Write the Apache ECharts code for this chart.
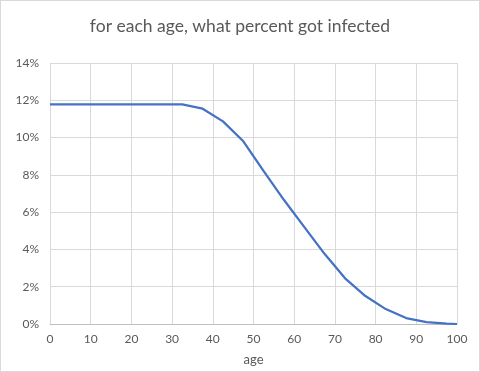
<!DOCTYPE html>
<html>
<head>
<meta charset="utf-8">
<script src="https://cdn.jsdelivr.net/npm/echarts@6/dist/echarts.min.js"></script>
<style>
html,body{margin:0;padding:0;background:#fff;}
#c{width:480px;height:372px;box-sizing:border-box;border:1px solid #d9d9d9;}
</style>
</head>
<body>
<div id="c"></div>
<script>
const titleText = 'for each age, what percent got infected';
const xAxisName = 'age';
const ages = [0, 2.5, 7.5, 12.5, 17.5, 22.5, 27.5, 32.5, 37.5, 42.5, 47.5, 52.5, 57.5, 62.5, 67.5, 72.5, 77.5, 82.5, 87.5, 92.5, 97.5, 100];
const pctInfected = [11.78, 11.78, 11.78, 11.78, 11.78, 11.78, 11.78, 11.78, 11.55, 10.87, 9.8, 8.2, 6.65, 5.2, 3.75, 2.45, 1.5, 0.8, 0.32, 0.1, 0.02, 0];

const chart = echarts.init(document.getElementById('c'), null, {renderer: 'canvas'});
const font = 'Lato, "Open Sans", sans-serif';
chart.setOption({
  animation: false,
  backgroundColor: '#fff',
  title: {
    text: titleText,
    left: 'center',
    top: 11,
    textStyle: {fontFamily: font, fontSize: 17.5, fontWeight: 'normal', color: '#595959'}
  },
  grid: {left: 49, right: 22, top: 62, bottom: 46, containLabel: false},
  xAxis: {
    type: 'value', min: 0, max: 100, interval: 10,
    name: xAxisName, nameLocation: 'middle', nameGap: 29,
    nameTextStyle: {fontFamily: font, fontSize: 13, color: '#595959'},
    axisLine: {show: true, lineStyle: {color: '#bfbfbf', width: 1}},
    axisTick: {show: false},
    axisLabel: {fontFamily: font, fontSize: 12, color: '#595959', margin: 9},
    splitLine: {show: true, lineStyle: {color: '#d9d9d9', width: 1}}
  },
  yAxis: {
    type: 'value', min: 0, max: 14, interval: 2,
    axisLine: {show: false},
    axisTick: {show: false},
    axisLabel: {fontFamily: font, fontSize: 12, color: '#595959', margin: 11, formatter: '{value}%'},
    splitLine: {show: true, lineStyle: {color: '#d9d9d9', width: 1}}
  },
  series: [{
    type: 'line',
    data: ages.map((a, i) => [a, pctInfected[i]]),
    showSymbol: false,
    smooth: false,
    lineStyle: {color: '#4472c4', width: 2.25},
    itemStyle: {color: '#4472c4'}
  }]
});
</script>
</body>
</html>
